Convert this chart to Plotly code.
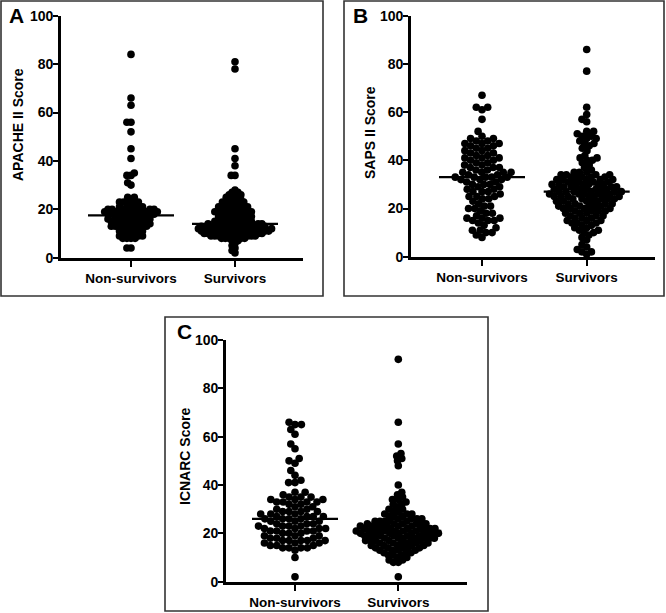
import math
import numpy as np
import plotly.graph_objects as go

# ---------------- data ----------------
groups = ["Non-survivors", "Survivors"]
y_ticks = [0, 20, 40, 60, 80, 100]
panel_letters = ["A", "B", "C"]
score_titles = ["APACHE II Score", "SAPS II Score", "ICNARC Score"]

apache_non = [84, 66, 63, 56, 56, 52, 45, 41, 35, 34, 34, 31, 30, 25, 25, 24,
              23, 23, 23, 22, 22, 22, 21, 21, 21, 20, 20, 20, 20, 20, 20, 20, 20,
              19, 19, 19, 19, 19, 19, 19, 18, 18, 18, 18, 18, 18, 18, 18,
              17, 17, 17, 17, 17, 16, 16, 16, 16, 16, 16, 15, 15, 15, 15, 15, 15,
              14, 14, 14, 14, 14, 13, 13, 13, 13, 13, 13, 12, 12, 12, 12,
              11, 11, 11, 10, 10, 10, 10, 9, 9, 9, 8, 8, 8, 8, 4, 4]
apache_surv = [81, 78, 45, 41, 38, 34, 34, 28, 27, 27, 26, 26, 26, 25, 25, 25,
               24, 24, 24, 23, 23, 23, 23, 22, 22, 22, 22, 21, 21, 21, 21, 21,
               20, 20, 20, 20, 20, 19, 19, 19, 19, 19, 19, 18, 18, 18, 18, 18, 18,
               17, 17, 17, 17, 17, 16, 16, 16, 16, 16, 16, 15, 15, 15, 15, 15, 15,
               14, 14, 14, 14, 14, 14, 14, 14, 14,
               13, 13, 13, 13, 13, 13, 13, 13, 13, 13,
               12, 12, 12, 12, 12, 12, 12, 12, 12, 12, 12, 12,
               11, 11, 11, 11, 11, 11, 11, 11, 11, 11, 11,
               10, 10, 10, 10, 10, 10, 10, 10, 10, 10,
               9, 9, 9, 9, 9, 9, 9, 9, 8, 8, 8, 8, 8, 8, 7, 7, 6, 5, 4, 3, 2]
saps_non = [67, 62, 62, 61, 57, 52, 50, 49, 49, 48, 48, 47, 47, 47, 46, 46, 45, 45,
            44, 44, 43, 43, 42, 42, 41, 41, 41, 40, 40, 39, 39, 38, 38, 37, 37, 37,
            36, 36, 35, 35, 35, 35, 34, 34, 33, 33, 33, 33, 33, 32, 32, 32, 31, 31,
            30, 30, 30, 29, 29, 28, 28, 27, 27, 27, 26, 25, 25, 25, 24, 24, 23,
            22, 21, 21, 20, 20, 19, 18, 18, 17, 16, 16, 16, 15, 15, 15, 14, 13,
            12, 11, 11, 10, 10, 9, 8]
saps_surv = [86, 77, 62, 59, 57, 56, 52, 52, 51, 50, 50, 49, 49, 48, 47, 47, 46,
             45, 44, 42, 41, 41, 40, 40, 39, 38, 37, 36, 35, 35, 35, 34, 34, 34, 34,
             33, 33, 33, 33, 33, 32, 32, 32, 32, 32, 31, 31, 31, 31, 31,
             30, 30, 30, 30, 30, 30, 29, 29, 29, 29, 29, 28, 28, 28, 28, 28, 28,
             27, 27, 27, 27, 27, 27, 26, 26, 26, 26, 26, 26, 25, 25, 25, 25, 25, 25,
             24, 24, 24, 24, 24, 23, 23, 23, 23, 23, 22, 22, 22, 22,
             21, 21, 21, 21, 21, 20, 20, 20, 20, 19, 19, 19, 19, 18, 18, 18,
             17, 17, 17, 16, 16, 16, 15, 15, 15, 14, 14, 14, 13, 13, 12, 12,
             11, 11, 10, 10, 9, 8, 7, 5, 4, 3, 2, 2, 1]
icnarc_non = [66, 65, 65, 63, 61, 57, 55, 51, 50, 49, 46, 44, 42, 41, 41, 37, 37,
              36, 35, 35, 35, 34, 34, 34, 33, 33, 33, 33, 32, 32, 31, 31, 30, 30,
              29, 29, 29, 29, 28, 28, 28, 27, 27, 27, 27, 26, 26, 26, 26,
              25, 25, 25, 24, 24, 24, 23, 23, 23, 23, 22, 22, 22, 22,
              21, 21, 21, 21, 20, 20, 20, 19, 19, 19, 18, 18, 18,
              17, 17, 17, 17, 17, 16, 16, 16, 15, 15, 15, 14, 14, 14, 14, 13, 10, 2]
icnarc_surv = [92, 66, 57, 53, 52, 51, 50, 48, 40, 37, 36, 35, 34, 34, 33, 32, 32,
               31, 30, 30, 29, 29, 28, 28, 28, 27, 27, 27, 26, 26, 26, 26,
               25, 25, 25, 25, 25, 24, 24, 24, 24, 24, 24,
               23, 23, 23, 23, 23, 23, 23, 22, 22, 22, 22, 22, 22, 22,
               21, 21, 21, 21, 21, 21, 21, 21, 20, 20, 20, 20, 20, 20, 20, 20,
               19, 19, 19, 19, 19, 19, 19, 18, 18, 18, 18, 18, 18, 18,
               17, 17, 17, 17, 17, 17, 16, 16, 16, 16, 16, 16,
               15, 15, 15, 15, 15, 14, 14, 14, 14, 14, 13, 13, 13, 13,
               12, 12, 12, 11, 11, 11, 10, 10, 9, 9, 8, 8, 2]

panel_data = [(apache_non, apache_surv), (saps_non, saps_surv), (icnarc_non, icnarc_surv)]

# ---------------- layout geometry (pixels) ----------------
W, H = 666, 613
areas = [
    dict(x0=61, x1=303, yt=15.7, yb=257.7, c1=131, c2=235),
    dict(x0=411, x1=655, yt=15.7, yb=256.7, c1=482, c2=586.7),
    dict(x0=226, x1=467, yt=340, yb=581.7, c1=295, c2=398.3),
]
frames = [(1, 1, 323, 296), (344, 1, 664, 296), (165, 317, 488, 611)]
letter_pos = [(16, 15), (360, 15), (184, 331)]
title_pos = [(18, 125), (370, 133), (185, 457)]
# swarm packing distance (px) per panel / group (dense groups overlap in the original)
swarm_sep = [(4.1, 3.8), (6.2, 5.3), (6.4, 4.9)]

DOT = 7.6  # marker diameter (px)


def swarm_offsets(values, px_per_unit, sep):
    order = np.argsort(values, kind="stable")
    placed = []
    offs = np.zeros(len(values))
    for idx in order:
        y = values[idx] * px_per_unit
        near = [(xj, yj) for xj, yj in placed if abs(y - yj) < sep]
        cands = [0.0]
        for xj, yj in near:
            dx = math.sqrt(sep * sep - (y - yj) ** 2)
            cands += [xj + dx, xj - dx]
        cands.sort(key=lambda c: (round(abs(c), 6), c))
        chosen = 0.0
        for c in cands:
            if all((c - xj) ** 2 + (y - yj) ** 2 >= sep * sep - 1e-6 for xj, yj in near):
                chosen = c
                break
        placed.append((chosen, y))
        offs[idx] = chosen
    return offs


fig = go.Figure()
FONT = "Liberation Sans, Arial, sans-serif"

for p, (a, (non, surv)) in enumerate(zip(areas, panel_data)):
    sfx = "" if p == 0 else str(p + 1)
    xpx = (a["c2"] - a["c1"])
    ypx = (a["yb"] - a["yt"]) / 100.0
    meds = []
    for gi, vals in enumerate([non, surv]):
        vals = np.asarray(vals, dtype=float)
        offs = swarm_offsets(vals, ypx, swarm_sep[p][gi]) / xpx
        fig.add_trace(go.Scatter(
            x=(gi + 1) + offs, y=vals, mode="markers",
            marker=dict(color="black", size=DOT, line=dict(width=0)),
            xaxis="x" + sfx, yaxis="y" + sfx, cliponaxis=False,
            showlegend=False, hoverinfo="y"))
        meds.append(float(np.median(vals)))
    for gi, med in enumerate(meds):
        half = 43.0 / xpx
        fig.add_trace(go.Scatter(
            x=[gi + 1 - half, gi + 1 + half], y=[med, med], mode="lines",
            line=dict(color="black", width=2.2),
            xaxis="x" + sfx, yaxis="y" + sfx, cliponaxis=False,
            showlegend=False, hoverinfo="skip"))

    xr = [1 - (a["c1"] - a["x0"]) / xpx, 2 + (a["x1"] - a["c2"]) / xpx]
    fig.layout["xaxis" + sfx] = dict(
        domain=[a["x0"] / W, a["x1"] / W], range=xr, anchor="y" + sfx,
        automargin=False,
        tickvals=[1, 2], ticktext=groups, ticks="outside", ticklen=6,
        tickwidth=2, tickcolor="black", showline=True, linecolor="black",
        linewidth=2.6, showgrid=False, zeroline=False, fixedrange=True,
        tickfont=dict(family=FONT, size=13.5, color="black", weight="bold"))
    fig.layout["yaxis" + sfx] = dict(
        domain=[1 - a["yb"] / H, 1 - a["yt"] / H], range=[0, 100], anchor="x" + sfx,
        automargin=False, ticklabelstandoff=-3,
        tickvals=y_ticks, ticks="outside", ticklen=5, tickwidth=2,
        tickcolor="black", showline=True, linecolor="black", linewidth=2.6,
        showgrid=False, zeroline=False, fixedrange=True,
        tickfont=dict(family=FONT, size=14, color="black", weight="bold"))

    x0, y0, x1, y1 = frames[p]
    fig.add_shape(type="rect", xref="paper", yref="paper",
                  x0=x0 / W, x1=x1 / W, y0=1 - y1 / H, y1=1 - y0 / H,
                  line=dict(color="#333333", width=1.6), layer="below")
    lx, ly = letter_pos[p]
    fig.add_annotation(x=lx / W, y=1 - ly / H, xref="paper", yref="paper",
                       text="<b>%s</b>" % panel_letters[p], showarrow=False,
                       font=dict(family=FONT, size=21, color="black"),
                       xanchor="center", yanchor="middle")
    tx, ty = title_pos[p]
    fig.add_annotation(x=tx / W, y=1 - ty / H, xref="paper", yref="paper",
                       text="<b>%s</b>" % score_titles[p], showarrow=False,
                       textangle=-90,
                       font=dict(family=FONT, size=14, color="black"),
                       xanchor="center", yanchor="middle")

fig.update_layout(width=W, height=H, margin=dict(l=0, r=0, t=0, b=0, autoexpand=False),
                  paper_bgcolor="white", plot_bgcolor="white", showlegend=False)
fig.write_html("out.html", config={"displayModeBar": False},
               post_script="document.body.style.margin='0';document.body.style.overflow='hidden';")
